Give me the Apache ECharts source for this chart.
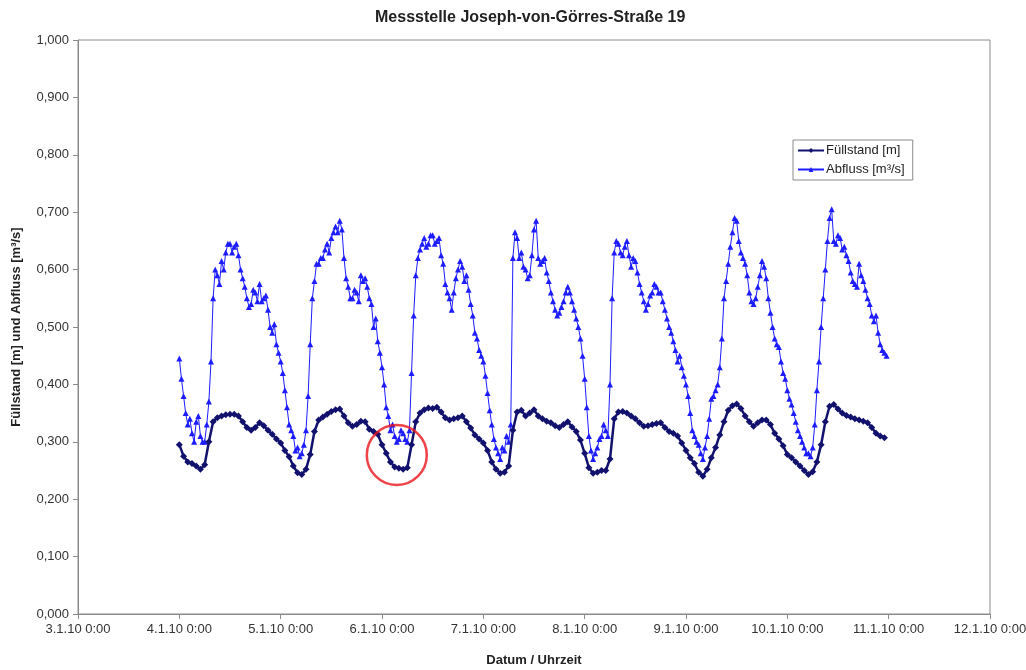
<!DOCTYPE html>
<html><head><meta charset="utf-8">
<script src="https://cdn.jsdelivr.net/npm/echarts@6/dist/echarts.min.js"></script>
<style>html,body{margin:0;padding:0;background:#fff}#c{width:1026px;height:670px}</style>
</head><body><div id="c"></div>
<script>
// x axis: days since 3.1.10 0:00; tick labels
const tickLabels = ['3.1.10 0:00','4.1.10 0:00','5.1.10 0:00','6.1.10 0:00','7.1.10 0:00','8.1.10 0:00','9.1.10 0:00','10.1.10 0:00','11.1.10 0:00','12.1.10 0:00'];
const firstDay = 1; // series start 4.1.10 0:00
// Füllstand [m], hourly readings, one row per day (4.1 ... 10.1)
const fuellstand = [
 0.295,0.275,0.265,0.262,0.258,0.252,0.260,0.300,0.335,0.342,0.345,0.347,0.348,0.348,0.345,0.335,0.325,0.320,0.325,0.333,0.328,0.320,0.313,0.305,
 0.298,0.285,0.274,0.258,0.246,0.243,0.252,0.278,0.318,0.338,0.343,0.348,0.353,0.356,0.357,0.345,0.333,0.327,0.330,0.336,0.335,0.322,0.318,0.313,
 0.295,0.280,0.265,0.256,0.254,0.252,0.255,0.295,0.335,0.350,0.356,0.359,0.358,0.360,0.352,0.342,0.338,0.340,0.342,0.345,0.335,0.324,0.312,0.305,
 0.298,0.285,0.265,0.252,0.245,0.247,0.258,0.320,0.352,0.355,0.345,0.350,0.356,0.345,0.340,0.336,0.333,0.328,0.325,0.330,0.335,0.326,0.318,0.303,
 0.280,0.255,0.245,0.247,0.250,0.250,0.270,0.340,0.352,0.353,0.350,0.345,0.340,0.333,0.327,0.328,0.330,0.332,0.333,0.325,0.318,0.315,0.310,0.298,
 0.285,0.272,0.262,0.247,0.240,0.252,0.272,0.290,0.312,0.335,0.355,0.363,0.366,0.358,0.345,0.335,0.327,0.333,0.338,0.338,0.330,0.315,0.305,0.293,
 0.278,0.272,0.265,0.258,0.250,0.243,0.248,0.265,0.295,0.335,0.362,0.365,0.357,0.350,0.346,0.343,0.340,0.338,0.336,0.333,0.325,0.315,0.310,0.307
];
// Abfluss [m³/s], half-hourly readings, one row per day (4.1 ... 10.1)
const abfluss = [
 0.445,0.41,0.38,0.35,0.33,0.34,0.315,0.30,0.335,0.345,0.31,0.30,0.30,0.33,0.37,0.44,0.55,0.60,0.59,0.575,0.615,0.60,0.63,0.645,0.645,0.63,0.64,0.645,0.625,0.60,0.585,0.57,0.55,0.535,0.54,0.565,0.56,0.545,0.575,0.545,0.55,0.555,0.53,0.50,0.49,0.505,0.47,0.455,
 0.44,0.42,0.39,0.36,0.33,0.32,0.31,0.285,0.29,0.275,0.28,0.295,0.32,0.38,0.47,0.55,0.58,0.61,0.61,0.62,0.62,0.635,0.645,0.63,0.655,0.665,0.675,0.665,0.685,0.67,0.62,0.585,0.57,0.55,0.55,0.565,0.56,0.545,0.59,0.58,0.585,0.57,0.55,0.54,0.50,0.515,0.475,0.455,
 0.43,0.40,0.36,0.345,0.32,0.33,0.31,0.30,0.305,0.32,0.315,0.305,0.30,0.32,0.42,0.52,0.59,0.62,0.635,0.645,0.655,0.64,0.645,0.66,0.66,0.645,0.65,0.655,0.625,0.61,0.575,0.56,0.55,0.53,0.56,0.585,0.60,0.615,0.605,0.58,0.59,0.565,0.54,0.52,0.49,0.48,0.46,0.45,
 0.44,0.415,0.385,0.355,0.33,0.305,0.29,0.28,0.27,0.29,0.285,0.31,0.30,0.33,0.62,0.665,0.655,0.62,0.63,0.605,0.60,0.585,0.59,0.625,0.67,0.685,0.62,0.61,0.615,0.62,0.595,0.58,0.56,0.545,0.53,0.52,0.525,0.535,0.545,0.56,0.57,0.56,0.545,0.53,0.515,0.50,0.48,0.45,
 0.41,0.36,0.31,0.285,0.27,0.28,0.29,0.305,0.31,0.33,0.32,0.31,0.40,0.55,0.63,0.65,0.645,0.63,0.625,0.64,0.65,0.625,0.605,0.62,0.615,0.595,0.575,0.56,0.545,0.53,0.54,0.555,0.56,0.575,0.57,0.56,0.56,0.545,0.53,0.515,0.50,0.49,0.475,0.46,0.44,0.45,0.43,0.415,
 0.40,0.38,0.35,0.32,0.31,0.30,0.295,0.28,0.27,0.29,0.31,0.34,0.375,0.38,0.39,0.40,0.43,0.48,0.55,0.58,0.61,0.64,0.665,0.69,0.685,0.65,0.63,0.62,0.61,0.59,0.56,0.545,0.54,0.55,0.57,0.59,0.615,0.605,0.585,0.55,0.525,0.50,0.48,0.47,0.465,0.44,0.42,0.41,
 0.39,0.375,0.365,0.35,0.335,0.32,0.31,0.30,0.29,0.28,0.28,0.275,0.29,0.33,0.39,0.44,0.50,0.55,0.60,0.65,0.69,0.705,0.65,0.645,0.66,0.655,0.635,0.64,0.625,0.615,0.595,0.58,0.575,0.57,0.61,0.59,0.58,0.565,0.55,0.54,0.52,0.51,0.52,0.49,0.47,0.46,0.455,0.45
];
// annotation circle (red) position
const markTime = 3.146, markValue = 0.277;

const toPairs = (arr, perDay) => arr.map((v, i) => [firstDay + i / perDay, v]);
const fmtY = v => v.toFixed(3).replace('.', ',');
const chart = echarts.init(document.getElementById('c'), null, {renderer: 'canvas'});
const FONT = '"Liberation Sans", Arial, sans-serif';
chart.setOption({
  animation: false,
  backgroundColor: '#fff',
  textStyle: {fontFamily: FONT},
  title: {
    text: 'Messstelle Joseph-von-Görres-Straße 19',
    left: 370, top: 5,
    textStyle: {fontSize: 16, fontWeight: 'bold', color: '#222', fontFamily: FONT}
  },
  grid: {left: 78, right: 36, top: 40, bottom: 56, show: true, borderColor: '#8a8a8a', borderWidth: 1, containLabel: false, outerBoundsMode: 'none'},
  legend: {
    data: ['Füllstand [m]', 'Abfluss [m³/s]'],
    orient: 'vertical', left: 793, top: 140,
    itemWidth: 26, itemHeight: 6, itemGap: 6,
    padding: [4, 8, 4, 4],
    borderColor: '#8a8a8a', borderWidth: 1, backgroundColor: '#fff',
    textStyle: {fontSize: 13, color: '#222', fontFamily: FONT, padding: [0, 0, 0, -3]}
  },
  xAxis: {
    type: 'value', min: 0, max: 9, interval: 1,
    name: 'Datum / Uhrzeit', nameLocation: 'middle', nameGap: 40,
    nameTextStyle: {fontSize: 13, fontWeight: 'bold', color: '#222'},
    axisLine: {lineStyle: {color: '#8a8a8a'}},
    axisTick: {show: true, length: 5, lineStyle: {color: '#8a8a8a'}},
    axisLabel: {formatter: v => tickLabels[Math.round(v)], fontSize: 13, color: '#333', margin: 9},
    splitLine: {show: false}
  },
  yAxis: {
    type: 'value', min: 0, max: 1, interval: 0.1,
    name: 'Füllstand [m] und Abfluss [m³/s]', nameLocation: 'middle', nameGap: 55,
    nameTextStyle: {fontSize: 13, fontWeight: 'bold', color: '#222'},
    axisLine: {show: true, lineStyle: {color: '#8a8a8a'}},
    axisTick: {show: true, length: 5, lineStyle: {color: '#8a8a8a'}},
    axisLabel: {formatter: fmtY, fontSize: 13, color: '#333', margin: 9},
    splitLine: {show: false}
  },
  series: [
    {
      name: 'Füllstand [m]', type: 'line', data: toPairs(fuellstand, 24),
      symbol: 'diamond', symbolSize: 7, showAllSymbol: true,
      lineStyle: {color: '#12126e', width: 2.5},
      itemStyle: {color: '#12126e'}, z: 3
    },
    {
      name: 'Abfluss [m³/s]', type: 'line', data: toPairs(abfluss, 48),
      symbol: 'triangle', symbolSize: 6, showAllSymbol: true,
      lineStyle: {color: '#1c1cff', width: 1},
      itemStyle: {color: '#1c1cff'}, z: 2
    },
    {
      name: 'Markierung', type: 'scatter', data: [[markTime, markValue]],
      symbol: 'circle', symbolSize: 60, silent: true,
      itemStyle: {color: 'rgba(0,0,0,0)', borderColor: '#e8141b', borderWidth: 2.5}, z: 5
    }
  ]
});
</script></body></html>
